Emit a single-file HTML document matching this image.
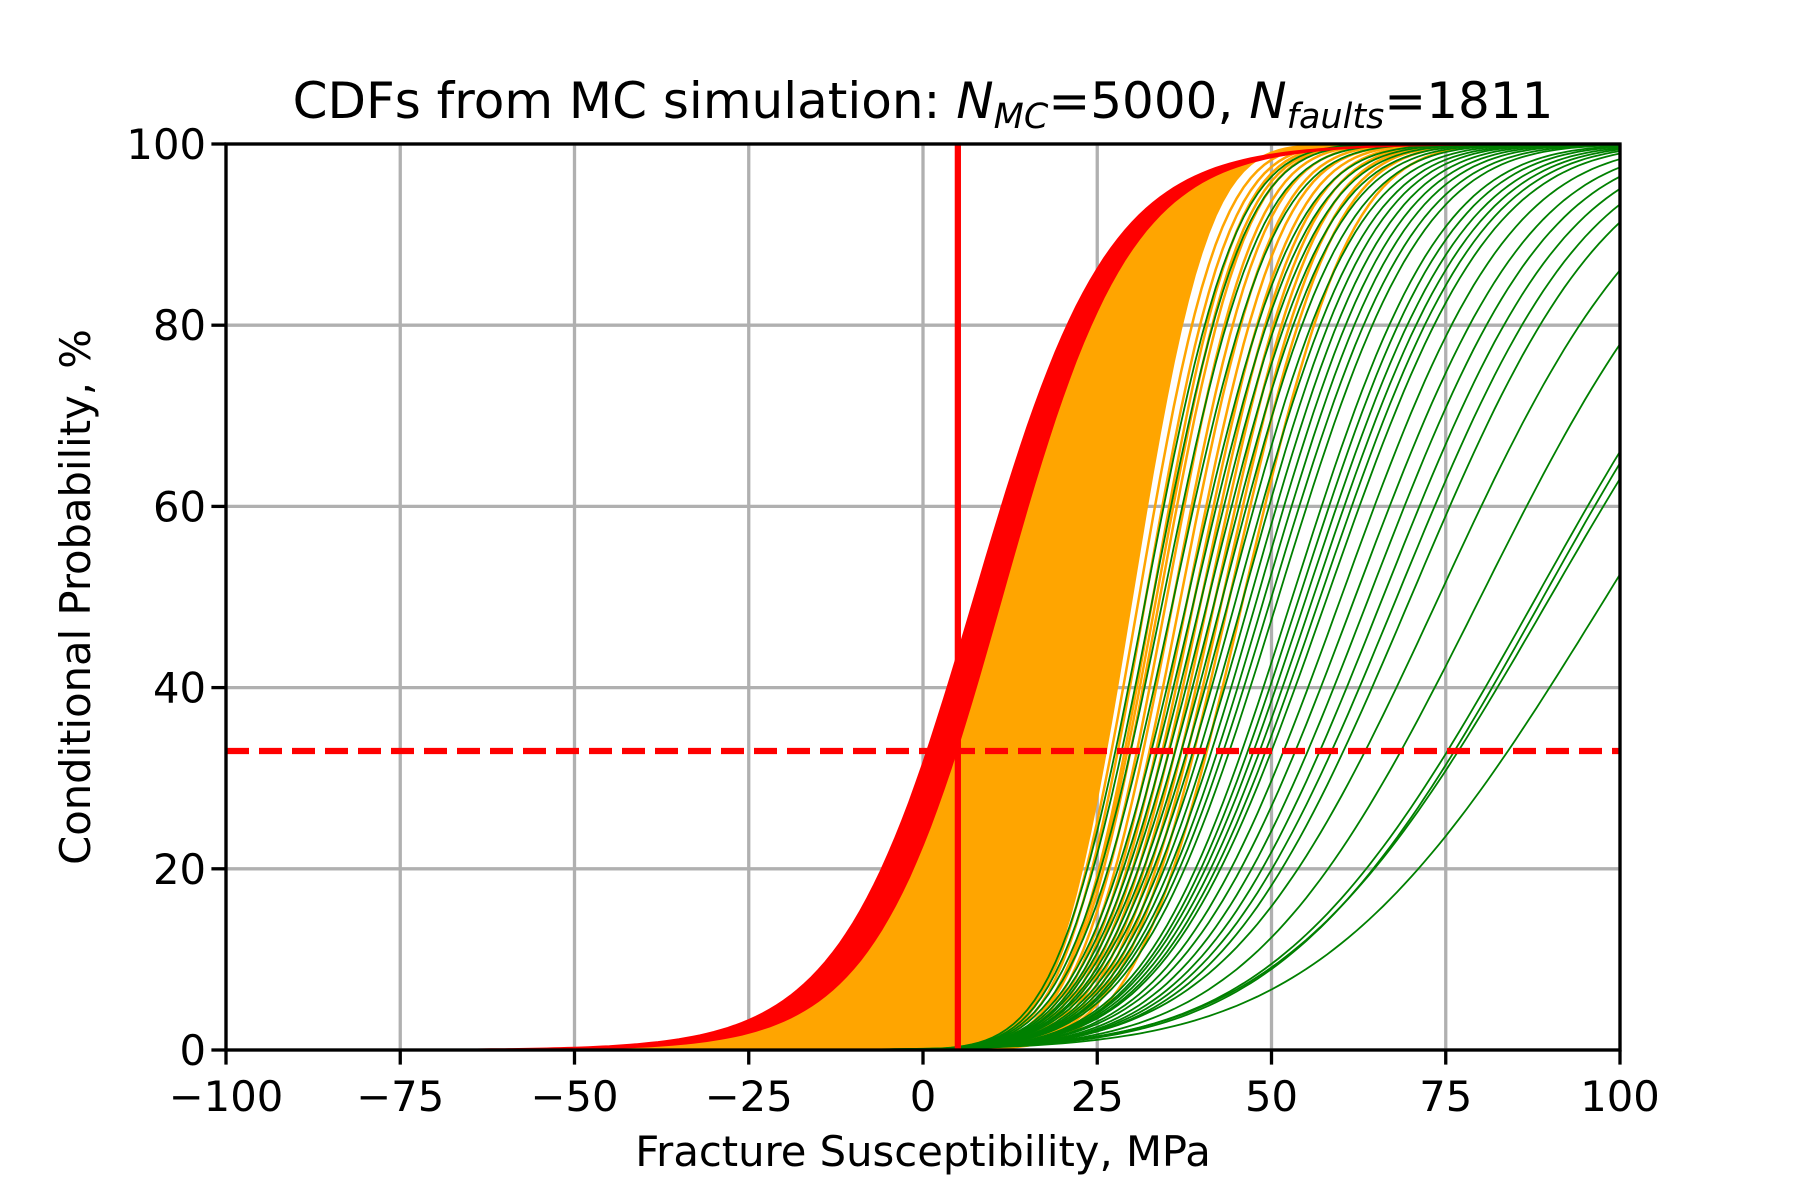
<!DOCTYPE html>
<html><head><meta charset="utf-8"><style>
html,body{margin:0;padding:0;background:#fff;}
svg{display:block;font-family:"DejaVu Sans","Liberation Sans",sans-serif;}
</style></head><body>
<svg id="chart" width="1800" height="1200" viewBox="0 0 1800 1200" xmlns="http://www.w3.org/2000/svg">
<rect x="0" y="0" width="1800" height="1200" fill="#fff"/>
<defs><clipPath id="clip"><rect x="226" y="144" width="1394" height="906"/></clipPath></defs>
<g id="grid"></g>
<g id="marks" clip-path="url(#clip)"></g>
<g id="axes"></g>
<text x="923" y="118" font-size="50" text-anchor="middle">CDFs from MC simulation: <tspan font-style="italic">N</tspan><tspan font-style="italic" font-size="35" dy="10">MC</tspan><tspan dy="-10">=5000, </tspan><tspan font-style="italic">N</tspan><tspan font-style="italic" font-size="35" dy="10">faults</tspan><tspan dy="-10">=1811</tspan></text>
<text x="923" y="1166" font-size="41.7" text-anchor="middle">Fracture Susceptibility, MPa</text>
<text x="0" y="0" font-size="41.7" text-anchor="middle" transform="translate(90,597) rotate(-90)">Conditional Probability, %</text>
</svg>
<script>
const xTicks = [-100, -75, -50, -25, 0, 25, 50, 75, 100];
const yTicks = [0, 20, 40, 60, 80, 100];
const redBandMu = [7.4, 11.3];
const redBandS = [9.6, 9.2];
const orangeBandMu = [11, 30];
const orangeBandS = [9.2, 8.5];
const orangeMu = [31, 32, 33, 33.5, 34, 35, 36, 37, 38, 39, 40, 41, 42, 43, 44, 46];
const orangeS = [9.0, 9.2, 9.2, 9.5, 9.6, 9.8, 10.0, 10.2, 10.4, 10.6, 10.8, 11.0, 11.2, 11.4, 11.6, 12.0];
const greenMu = [32, 33, 34.5, 36, 38, 39, 40, 41, 42, 43, 44, 45, 46, 47, 48, 49, 50, 51, 53, 54, 55, 56, 57, 58, 60, 62, 64, 66, 68, 70, 74, 80, 88, 89, 90, 98];
const greenS = [10, 10.2, 10.7, 11.2, 11.9, 12.2, 12.5, 12.9, 13.2, 13.5, 13.9, 14.2, 14.4, 14.7, 15, 15.3, 15.7, 16, 16.5, 16.8, 17.2, 17.5, 17.8, 18.2, 18.8, 19.5, 20, 20.6, 21.3, 22, 24, 26, 29, 29, 30, 32];
const thresholdX = 5;
const thresholdY = 33;

const NS = "http://www.w3.org/2000/svg";
const X0 = 226, X1 = 1620, Y0 = 1050, Y1 = 144;
function sx(v){ return X0 + (v + 100) / 200 * (X1 - X0); }
function sy(v){ return Y0 - v / 100 * (Y0 - Y1); }
function logi(x, mu, s){ return 100 / (1 + Math.exp(-(x - mu) / s)); }
function erf(z){
  const t = 1 / (1 + 0.3275911 * Math.abs(z));
  const y = 1 - (((((1.061405429 * t - 1.453152027) * t) + 1.421413741) * t - 0.284496736) * t + 0.254829592) * t * Math.exp(-z * z);
  return z >= 0 ? y : -y;
}
function norm(x, mu, s){ return 50 * (1 + erf((x - mu) / (s * Math.SQRT2))); }
function pts(f, mu, s, rev){
  const a = [];
  for (let x = -100; x <= 100; x += 1) a.push(sx(x).toFixed(1) + "," + sy(f(x, mu, s)).toFixed(1));
  if (rev) a.reverse();
  return a;
}
function mk(tag, attrs, parent){
  const e = document.createElementNS(NS, tag);
  for (const k in attrs) e.setAttribute(k, attrs[k]);
  parent.appendChild(e);
  return e;
}
const grid = document.getElementById("grid");
const marks = document.getElementById("marks");
const axes = document.getElementById("axes");

xTicks.forEach(t => {
  const l = mk("line", {x1: sx(t), x2: sx(t), y1: Y1, y2: Y0, stroke: "#b0b0b0", "stroke-width": 3.3}, grid);
  
  
  const tk = mk("line", {x1: sx(t), x2: sx(t), y1: Y0, y2: Y0 + 14.6, stroke: "#000", "stroke-width": 3.3}, axes);
  
  
  const tx = mk("text", {x: sx(t), y: 1111, "font-size": 41.7, "text-anchor": "middle"}, axes);
  tx.textContent = (t < 0 ? "\u2212" + (-t) : String(t));
  
  
});
yTicks.forEach(t => {
  const l = mk("line", {x1: X0, x2: X1, y1: sy(t), y2: sy(t), stroke: "#b0b0b0", "stroke-width": 3.3}, grid);
  
  
  const tk = mk("line", {x1: X0 - 14.6, x2: X0, y1: sy(t), y2: sy(t), stroke: "#000", "stroke-width": 3.3}, axes);
  
  
  const tx = mk("text", {x: 206, y: sy(t) + 15, "font-size": 41.7, "text-anchor": "end"}, axes);
  tx.textContent = String(t);
  
  
});

const ob = mk("polygon", {points: pts(logi, orangeBandMu[0], orangeBandS[0]).concat(pts(norm, orangeBandMu[1], orangeBandS[1], true)).join(" "), fill: "#ffa500", stroke: "#ffa500", "stroke-width": 2}, marks);


orangeMu.forEach((m, i) => {
  const p = mk("polyline", {points: pts(norm, m, orangeS[i]).join(" "), fill: "none", stroke: "#ffa500", "stroke-width": 2.5}, marks);
  
  
});
greenMu.forEach((m, i) => {
  const p = mk("polyline", {points: pts(norm, m, greenS[i]).join(" "), fill: "none", stroke: "#008000", "stroke-width": 1.8}, marks);
  
  
});
const rb = mk("polygon", {points: pts(logi, redBandMu[0], redBandS[0]).concat(pts(logi, redBandMu[1], redBandS[1], true)).join(" "), fill: "#ff0000", stroke: "#ff0000", "stroke-width": 2}, marks);



const vl = mk("line", {x1: sx(thresholdX), x2: sx(thresholdX), y1: Y1, y2: Y0, stroke: "#ff0000", "stroke-width": 6.25}, marks);


const hl = mk("line", {x1: X0, x2: X1, y1: sy(thresholdY), y2: sy(thresholdY), stroke: "#ff0000", "stroke-width": 6.25, "stroke-dasharray": "23 10"}, marks);



const frame = mk("rect", {x: X0, y: Y1, width: X1 - X0, height: Y0 - Y1, fill: "none", stroke: "#000", "stroke-width": 3.3}, axes);


</script>
</body></html>
